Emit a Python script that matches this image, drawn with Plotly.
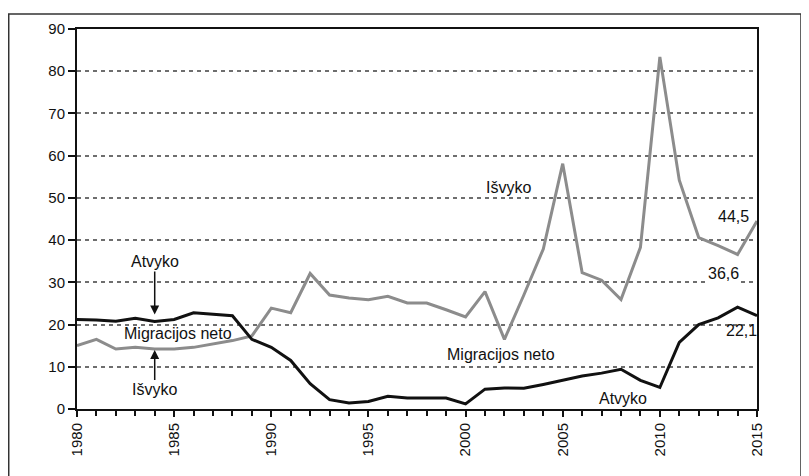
import plotly.graph_objects as go

years = list(range(1980, 2016))
atvyko = [21.2, 21.1, 20.8, 21.5, 20.7, 21.2, 22.8, 22.5, 22.1, 16.5,
          14.6, 11.5, 6.0, 2.2, 1.4, 1.8, 3.0, 2.6, 2.6, 2.6,
          1.2, 4.7, 5.0, 4.9, 5.8, 6.8, 7.8, 8.5, 9.4, 6.8,
          5.1, 15.8, 20.0, 21.6, 24.1, 22.1]
isvyko = [15.0, 16.5, 14.2, 14.6, 14.2, 14.2, 14.6, 15.4, 16.2, 17.3,
          23.9, 22.8, 32.1, 27.0, 26.3, 25.9, 26.7, 25.1, 25.1, 23.5,
          21.8, 27.8, 16.5, 27.0, 37.9, 58.1, 32.3, 30.5, 25.9, 38.3,
          83.4, 54.2, 40.6, 38.7, 36.6, 44.5]
x_ticks = [1980, 1985, 1990, 1995, 2000, 2005, 2010, 2015]
y_ticks = [0, 10, 20, 30, 40, 50, 60, 70, 80, 90]

FONT = "Liberation Sans, Arial, sans-serif"

fig = go.Figure()
fig.add_trace(go.Scatter(x=years, y=isvyko, mode="lines",
                         line=dict(color="#8c8c8c", width=3), name="Išvyko"))
fig.add_trace(go.Scatter(x=years, y=atvyko, mode="lines",
                         line=dict(color="#111111", width=3), name="Atvyko"))

fig.update_layout(
    width=809, height=476,
    margin=dict(l=69, r=60, t=16, b=75),
    paper_bgcolor="white", plot_bgcolor="white",
    showlegend=False,
    font=dict(family=FONT, size=15, color="#111"),
    xaxis=dict(range=[1980, 2015], tickvals=x_ticks, ticktext=[str(v) for v in x_ticks],
               tickangle=-90, ticks="outside", ticklen=6, tickwidth=1.5, tickcolor="#111",
               showline=True, linecolor="#111", linewidth=2, mirror=True,
               showgrid=False, zeroline=False,
               minor=dict(dtick=1, ticks="outside", ticklen=5, tickwidth=1.5, tickcolor="#111"),
               tickfont=dict(family=FONT, size=15, color="#111")),
    yaxis=dict(range=[0, 90], tickvals=y_ticks, ticks="outside", ticklen=7, tickwidth=1.5,
               tickcolor="#111", showline=True, linecolor="#111", linewidth=2, mirror=True,
               showgrid=True, gridcolor="#6e6e6e", gridwidth=1.8, griddash="4px,4px",
               zeroline=False, tickfont=dict(family=FONT, size=15, color="#111")),
)

# outer frame
fig.add_shape(type="rect", xref="paper", yref="paper",
              x0=-0.1004, x1=1.0647, y0=-0.25, y1=1.0396,
              line=dict(color="#333", width=1.5), fillcolor="rgba(0,0,0,0)")

def txt(x, y, s, **kw):
    fig.add_annotation(x=x, y=y, text=s, showarrow=False,
                       font=dict(family=FONT, size=16, color="#111"), **kw)

# arrows
fig.add_annotation(x=1984, y=22.4, text="Atvyko", showarrow=True, ax=0, ay=-53,
                   arrowhead=2, arrowsize=1.2, arrowwidth=1.5, arrowcolor="#111",
                   font=dict(family=FONT, size=16, color="#111"))
fig.add_annotation(x=1984, y=14.0, text="Išvyko", showarrow=True, ax=0, ay=40,
                   arrowhead=2, arrowsize=1.2, arrowwidth=1.5, arrowcolor="#111",
                   font=dict(family=FONT, size=16, color="#111"))

txt(1985.2, 17.9, "Migracijos neto")
txt(2001.8, 12.8, "Migracijos neto")
txt(2002.2, 52.4, "Išvyko")
txt(2008.1, 2.6, "Atvyko")
txt(2013.8, 45.7, "44,5", bgcolor="white")
txt(2013.3, 32.0, "36,6", bgcolor="white")
txt(2014.2, 18.5, "22,1")

fig.write_html("out.html")
